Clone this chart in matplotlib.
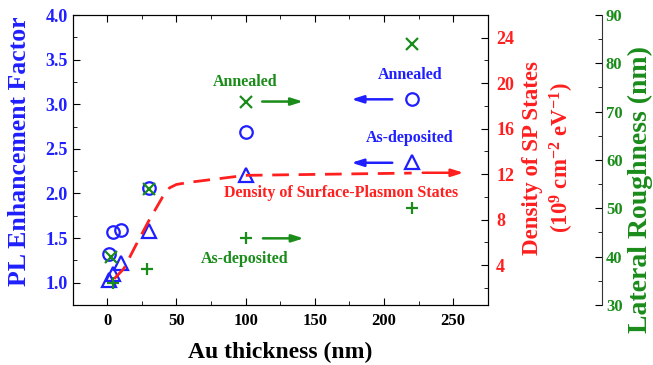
import matplotlib
matplotlib.use("Agg")
import matplotlib.pyplot as plt
import numpy as np

plt.rcParams["font.family"] = ["Liberation Serif", "DejaVu Serif"]
plt.rcParams["font.weight"] = "bold"
plt.rcParams["axes.labelweight"] = "bold"
plt.rcParams["mathtext.fontset"] = "custom"
plt.rcParams["mathtext.rm"] = "Liberation Serif:bold"
plt.rcParams["mathtext.it"] = "Liberation Serif:bold"
plt.rcParams["mathtext.bf"] = "Liberation Serif:bold"

BLUE = "#1f1fff"
RED = "#ff1f1f"
GREEN = "#1a8c1a"

# PL enhancement factor (left axis)
thick_pl = [1, 4, 10, 30, 100, 220]
pl_annealed = [1.32, 1.57, 1.59, 2.06, 2.69, 3.06]
pl_asdep = [1.03, 1.10, 1.22, 1.58, 2.21, 2.35]

# lateral roughness (far right axis)
thick_rough_ann = [3, 30, 100, 220]
rough_annealed = [40.0, 54.1, 71.9, 84.0]
thick_rough_dep = [4, 29, 100, 220]
rough_asdep = [34.5, 37.4, 43.8, 50.0]

# density of surface-plasmon states (right axis)
thick_sp = [5, 12, 20, 30, 40, 45, 50, 60, 100, 220]
sp_density = [2.8, 3.7, 5.6, 7.9, 10.0, 10.8, 11.1, 11.3, 11.9, 12.1]

fig = plt.figure(figsize=(6.53, 3.65), dpi=100)
ax = fig.add_axes([0.1113, 0.1644, 0.6356, 0.7945])
ax2 = ax.twinx()
ax3 = ax.twinx()
ax3.spines["right"].set_position(("axes", 1.2747))
for a in (ax, ax2, ax3):
    a.set_facecolor("none")
ax3.spines["top"].set_visible(False)
ax3.spines["left"].set_visible(False)
ax3.spines["bottom"].set_visible(False)
ax3.spines["right"].set_color("#333333")

ms = 9
ax.plot(thick_pl, pl_annealed, "o", ms=ms, mfc="none", mec=BLUE, mew=1.6)
ax.plot(thick_pl, pl_asdep, "^", ms=ms + 1.5, mfc="none", mec=BLUE, mew=1.6)
ax3.plot(thick_rough_ann, rough_annealed, "x", ms=ms - 1, mec=GREEN, mew=1.6)
ax3.plot(thick_rough_dep, rough_asdep, "+", ms=ms, mec=GREEN, mew=1.6)
ax2.plot(thick_sp, sp_density, "--", color=RED, lw=2, dashes=(6, 3.5))

ax.set_xlim(-25, 275)
ax.set_ylim(0.75, 4.0)
ax2.set_ylim(0.5, 26.0)
ax3.set_ylim(30, 90)

ax.set_xticks(np.arange(0, 251, 50))
ax.set_xticks(np.arange(25, 276, 50), minor=True)
ax.set_yticks(np.arange(1.0, 4.01, 0.5))
ax.set_yticks(np.arange(0.75, 4.0, 0.5), minor=True)
ax.yaxis.set_major_formatter(matplotlib.ticker.FormatStrFormatter("%.1f"))
ax2.set_yticks(np.arange(4, 25, 4))
ax2.set_yticks(np.arange(2, 26, 2), minor=True)
ax3.set_yticks(np.arange(30, 91, 10))
ax3.set_yticks(np.arange(35, 90, 10), minor=True)

ax.tick_params(axis="x", which="both", direction="in", top=True, labelsize=12, pad=6)
ax.tick_params(axis="y", which="both", direction="in", labelsize=13, labelcolor=BLUE)
ax.tick_params(which="major", length=5)
ax.tick_params(which="minor", length=3)
ax2.tick_params(axis="y", which="both", direction="in", labelsize=13, labelcolor=RED, pad=6)
ax2.tick_params(which="major", length=5)
ax2.tick_params(which="minor", length=3)
ax3.tick_params(axis="y", which="both", direction="in", labelsize=12, labelcolor=GREEN, pad=3)
ax3.tick_params(which="major", length=5)
ax3.tick_params(which="minor", length=3)

ax.set_xlabel("Au thickness (nm)", fontsize=17, va="center")
ax.xaxis.set_label_coords(0.501, -0.162)
ax.set_ylabel("PL Enhancement Factor", fontsize=18.5, color=BLUE, va="center")
ax.yaxis.set_label_coords(-0.128, 0.531)
ax2.set_ylabel("Density of SP States\n(10$^{9}$ cm$^{-2}$ eV$^{-1}$)", fontsize=16.5,
               color=RED, va="center", linespacing=1.25)
ax2.yaxis.set_label_coords(1.148, 0.507)
ax3.set_ylabel("Lateral Roughness (nm)", fontsize=20, color=GREEN, va="center")
ax3.yaxis.set_label_coords(1.368, 0.397)

tfs = 11.5
ax.text(99.5, 3.245, "Annealed", color=GREEN, fontsize=tfs, ha="center", va="center")
ax.text(218.8, 3.327, "Annealed", color=BLUE, fontsize=tfs, ha="center", va="center")
ax.text(218.8, 2.618, "As-deposited", color=BLUE, fontsize=tfs, ha="center", va="center")
ax.text(169.3, 2.008, "Density of Surface-Plasmon States", color=RED, fontsize=tfs,
        ha="center", va="center")
ax.text(99.4, 1.265, "As-deposited", color=GREEN, fontsize=tfs, ha="center", va="center")

arrows = [
    (112, 141.5, 3.03, GREEN),
    (206, 176.5, 3.055, BLUE),
    (206, 176.5, 2.344, BLUE),
    (228, 257.5, 2.232, RED),
    (112.5, 142, 1.497, GREEN),
]
for x0, x1, y, c in arrows:
    ax.annotate("", xy=(x1, y), xytext=(x0, y),
                arrowprops=dict(arrowstyle="-|>,head_length=0.7,head_width=0.22",
                                color=c, lw=1.8, shrinkA=0, shrinkB=0))

plt.savefig("out.png", dpi=100)
